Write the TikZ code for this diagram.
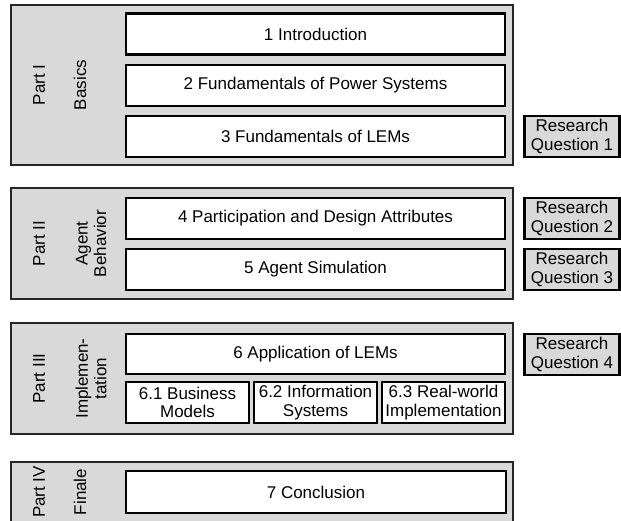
\documentclass[tikz,border=0pt]{standalone}
\usepackage{fontspec}
\setmainfont{Liberation Sans}
\definecolor{partgray}{HTML}{D9D9D9}
\tikzset{
  txt/.style={font=\fontsize{17}{18.5}\selectfont},
  partbox/.style={draw=black!85, line width=2.2pt, fill=partgray, inner sep=0pt, outer sep=0pt},
  chap/.style={txt, draw, line width=2.2pt, fill=white, align=center, inner sep=0pt, outer sep=0pt, minimum height=41pt},
  rq/.style={txt, draw, line width=2.2pt, fill=partgray, align=center, inner sep=0pt, outer sep=0pt, minimum width=95pt, minimum height=41pt},
  lbl/.style={txt, rotate=90, align=center, inner sep=0pt},
}
\begin{document}
\begin{tikzpicture}[x=1pt, y=-1pt]
\clip (0,0) rectangle (621,520);
% Part I
\node[partbox, minimum width=502pt, minimum height=160pt] (p1) at (262,85) {};
\node[chap, minimum width=379pt] (c1) at (315.5,34) {1 Introduction};
\node[chap, minimum width=379pt] (c2) at (315.5,85.5) {2 Fundamentals of Power Systems};
\node[chap, minimum width=379pt] (c3) at (315.5,136.5) {3 Fundamentals of LEMs};
\node[lbl] (l1) at (39,85) {Part I};
\node[lbl] (s1) at (80,85) {Basics};
\node[rq] (rq1) at (572,136.5) {Research\\Question 1};
% Part II
\node[partbox, minimum width=502pt, minimum height=111pt] (p2) at (262,243.5) {};
\node[chap, minimum width=379pt] (c4) at (315.5,218.5) {4 Participation and Design Attributes};
\node[chap, minimum width=379pt] (c5) at (315.5,269.5) {5 Agent Simulation};
\node[lbl] (l2) at (39,243.5) {Part II};
\node[lbl] (s2) at (91,243.5) {Agent\\Behavior};
\node[rq] (rq2) at (572,218.5) {Research\\Question 2};
\node[rq] (rq3) at (572,269.5) {Research\\Question 3};
% Part III
\node[partbox, minimum width=502pt, minimum height=111pt] (p3) at (262,378.5) {};
\node[chap, minimum width=379pt, minimum height=40pt] (c6) at (315.5,354) {6 Application of LEMs};
\node[chap, minimum width=123pt] (c61) at (187.5,402.5) {6.1 Business\\Models};
\node[chap, minimum width=123pt] (c62) at (315.5,402.5) {6.2 Information\\Systems};
\node[chap, minimum width=123pt] (c63) at (443.5,402.5) {6.3 Real-world\\Implementation};
\node[lbl] (l3) at (39,378.5) {Part III};
\node[lbl] (s3) at (91,378.5) {Implemen-\\tation};
\node[rq] (rq4) at (572,354.5) {Research\\Question 4};
% Part IV
\node[partbox, minimum width=502pt, minimum height=60pt] (p4) at (262,492) {};
\node[chap, minimum width=380pt, minimum height=42pt] (c7) at (316,492) {7 Conclusion};
\node[lbl] (l4) at (39,492) {Part IV};
\node[lbl] (s4) at (80,492) {Finale};
\end{tikzpicture}
\end{document}
